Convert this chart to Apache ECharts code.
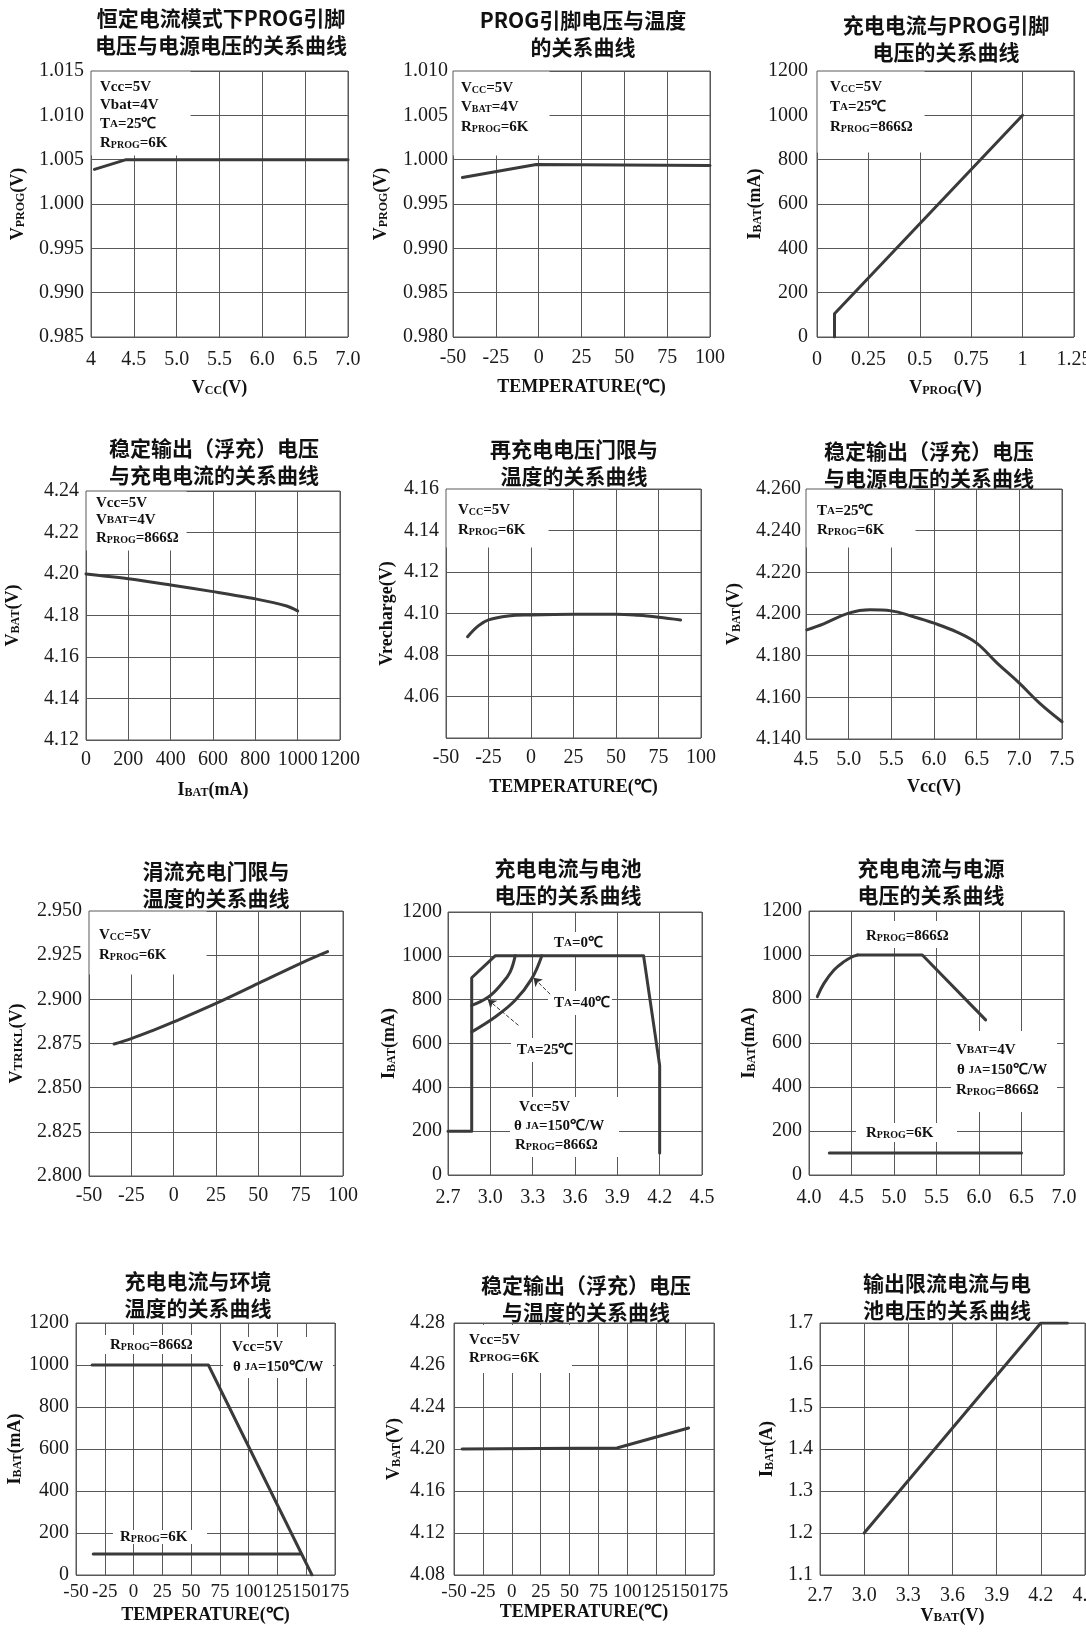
<!DOCTYPE html>
<html>
<head>
<meta charset="utf-8">
<script src="https://cdn.jsdelivr.net/npm/echarts@6/dist/echarts.min.js"></script>
<style>
  html, body { margin: 0; padding: 0; background: #fff; }
  #main { width: 1086px; height: 1632px; }
</style>
</head>
<body>
<div id="main"></div>
<script>
  const SERIF = '"Liberation Serif", "Times New Roman", serif'
  const CJK = '"Noto Sans CJK SC", sans-serif'
  const INK = '#3a3a3a'
  const GRIDC = '#585858'

  // ---- 1 恒定电流模式下PROG引脚电压与电源电压 ----
  const vccX = [4.04, 4.41, 7.0]
  const vprogY = [1.0039, 1.005, 1.005]
  const vccTicks = ['4', '4.5', '5.0', '5.5', '6.0', '6.5', '7.0']
  const vprog1Ticks = ['0.985', '0.990', '0.995', '1.000', '1.005', '1.010', '1.015']

  // ---- 2 PROG引脚电压与温度 ----
  const tempProgX = [-44.5, -1.4, 100]
  const tempProgY = [0.998, 0.99945, 0.99935]
  const temp100Ticks = ['-50', '-25', '0', '25', '50', '75', '100']
  const vprog2Ticks = ['0.980', '0.985', '0.990', '0.995', '1.000', '1.005', '1.010']

  // ---- 3 充电电流与PROG引脚电压 ----
  const progVX = [0.085, 0.085, 1.0]
  const progIY = [0, 105, 1000]
  const progVTicks = ['0', '0.25', '0.5', '0.75', '1', '1.25']
  const ma1200Ticks = ['0', '200', '400', '600', '800', '1000', '1200']

  // ---- 4 稳定输出电压与充电电流 ----
  const ibatX = [0, 200, 400, 600, 800, 948, 1000]
  const vfloatIY = [4.2, 4.1977, 4.1947, 4.1915, 4.188, 4.1846, 4.1822]
  const v424Ticks = ['4.12', '4.14', '4.16', '4.18', '4.20', '4.22', '4.24']

  // ---- 5 再充电电压门限与温度 ----
  const rechTX = [-37.3, -31, -25, -13.5, 0, 25, 50, 63, 75, 88]
  const rechVY = [4.0888, 4.094, 4.0969, 4.0988, 4.0993, 4.0996, 4.0996, 4.0991, 4.0982, 4.0969]
  const rechTicks = ['', '4.06', '4.08', '4.10', '4.12', '4.14', '4.16']

  // ---- 6 稳定输出电压与电源电压 ----
  const vcc6X = [4.51, 4.707, 5.0, 5.25, 5.5, 5.75, 6.0, 6.27, 6.5, 6.74, 7.0, 7.24, 7.5]
  const vbat6Y = [4.1924, 4.1953, 4.2004, 4.202, 4.2015, 4.1988, 4.1956, 4.1913, 4.186, 4.1764, 4.1668, 4.1571, 4.1483]
  const vcc6Ticks = ['4.5', '5.0', '5.5', '6.0', '6.5', '7.0', '7.5']
  const vbat6Ticks = ['4.140', '4.160', '4.180', '4.200', '4.220', '4.240', '4.260']

  // ---- 7 涓流充电门限与温度 ----
  const trkTX = [-35.2, -25, -12.5, 0, 25, 50, 75, 90.9]
  const trkVY = [2.8747, 2.8778, 2.8823, 2.8872, 2.8977, 2.909, 2.9204, 2.927]
  const trkTicks = ['2.800', '2.825', '2.850', '2.875', '2.900', '2.925', '2.950']

  // ---- 8 充电电流与电池电压 ----
  const envVX = [2.7, 2.868, 2.868, 3.034, 4.086, 4.2, 4.2]
  const envIY = [200, 200, 900, 1000, 1000, 500, 100]
  const arcAX = [2.868, 2.986, 3.081, 3.14, 3.176]
  const arcAY = [774, 812, 873, 926, 1000]
  const arcBX = [2.868, 3.034, 3.176, 3.294, 3.365]
  const arcBY = [653, 721, 797, 896, 1000]
  const arrowFrom = [[3.199, 683], [3.424, 825]]
  const arrowTo = [[2.982, 800], [3.306, 900]]
  const vbatTicks = ['2.7', '3.0', '3.3', '3.6', '3.9', '4.2', '4.5']

  // ---- 9 充电电流与电源电压 ----
  const riseVX = [4.098, 4.176, 4.294, 4.412, 4.51, 4.57]
  const riseIY = [811, 871, 932, 970, 992, 1000]
  const flatVX = [4.57, 5.333, 6.078]
  const flatIY = [1000, 1000, 705]
  const k6VX = [4.239, 6.5]
  const k6IY = [100, 100]
  const vcc9Ticks = ['4.0', '4.5', '5.0', '5.5', '6.0', '6.5', '7.0']

  // ---- 10 充电电流与环境温度 ----
  const amb866X = [-36, 65, 155]
  const amb866Y = [1000, 1000, 0]
  const amb6kX = [-35, 145]
  const amb6kY = [100, 100]
  const temp175Ticks = ['-50', '-25', '0', '25', '50', '75', '100', '125', '150', '175']

  // ---- 11 稳定输出电压与温度 ----
  const flTX = [-43, 91, 153]
  const flVY = [4.2, 4.201, 4.22]
  const flTickVals = [4.08, 4.12, 4.16, 4.20, 4.24, 4.26, 4.28]

  // ---- 12 输出限流电流与电池电压 ----
  const limVX = [3.0, 4.2, 4.38]
  const limIY = [1.2, 1.7, 1.7]
  const limTicks = ['1.1', '1.2', '1.3', '1.4', '1.5', '1.6', '1.7']

  const zip = (xs, ys) => xs.map((x, i) => [x, ys[i]])
  // position on an axis whose equally spaced grid lines carry uneven labels
  const tickPos = (v, vals) => {
    for (let i = 0; i < vals.length - 1; i++) {
      if (v <= vals[i + 1]) return i + (v - vals[i]) / (vals[i + 1] - vals[i])
    }
    return vals.length - 1
  }

  const NAME_RICH = {
    b: { fontFamily: SERIF, fontWeight: 'bold', fontSize: 18, color: '#111' },
    s: { fontFamily: SERIF, fontWeight: 'bold', fontSize: 12, color: '#111', verticalAlign: 'bottom' },
    c: { fontFamily: SERIF, fontWeight: 'bold', fontSize: 13, color: '#111', verticalAlign: 'bottom', padding: [0, 0, 1, 0] },
  }
  const ANN_RICH = {
    n: { fontFamily: SERIF, fontWeight: 'bold', fontSize: 15, fill: '#111' },
    s: { fontFamily: SERIF, fontWeight: 'bold', fontSize: 10, fill: '#111', verticalAlign: 'bottom' },
    c: { fontFamily: SERIF, fontWeight: 'bold', fontSize: 11, fill: '#111', verticalAlign: 'bottom', padding: [0, 0, 2, 0] },
  }
  const TEMP_NAME = '{b|TEMPERATURE(℃)}'

  const panels = [
    {
      title: '恒定电流模式下PROG引脚\n电压与电源电压的关系曲线', tx: 221, ty: 5, rect: [91, 71, 257, 266],
      x: { min: 4, max: 7, step: 0.5, ticks: vccTicks, name: '{b|V}{s|CC}{b|(V)}', gap: 42, margin: 13 },
      y: { min: 0.985, max: 1.015, step: 0.005, ticks: vprog1Ticks, name: '{b|V}{s|PROG}{b|(V)}', gap: 64 },
      lines: [{ data: zip(vccX, vprogY) }],
    },
    {
      title: 'PROG引脚电压与温度\n的关系曲线', tx: 583, ty: 7, rect: [453, 71, 257, 266],
      x: { min: -50, max: 100, step: 25, ticks: temp100Ticks, name: TEMP_NAME, gap: 41, margin: 11 },
      y: { min: 0.98, max: 1.01, step: 0.005, ticks: vprog2Ticks, name: '{b|V}{s|PROG}{b|(V)}', gap: 63, margin: 5 },
      lines: [{ data: zip(tempProgX, tempProgY) }],
    },
    {
      title: '充电电流与PROG引脚\n电压的关系曲线', tx: 946, ty: 11.5, rect: [817, 71, 257, 266],
      x: { min: 0, max: 1.25, step: 0.25, ticks: progVTicks, name: '{b|V}{s|PROG}{b|(V)}', gap: 42, margin: 13 },
      y: { min: 0, max: 1200, step: 200, ticks: ma1200Ticks, name: '{b|I}{s|BAT}{b|(mA)}', gap: 52, margin: 9 },
      lines: [{ data: zip(progVX, progIY) }],
    },
    {
      title: '稳定输出（浮充）电压\n与充电电流的关系曲线', tx: 214, ty: 435, rect: [86, 491, 254, 249],
      x: { min: 0, max: 1200, step: 200, ticks: ma1200Ticks, name: '{b|I}{s|BAT}{b|(mA)}', gap: 41, margin: 10 },
      y: { min: 4.12, max: 4.24, step: 0.02, ticks: v424Ticks, name: '{b|V}{s|BAT}{b|(V)}', gap: 64 },
      lines: [{ data: zip(ibatX, vfloatIY), smooth: 0.3 }],
    },
    {
      title: '再充电电压门限与\n温度的关系曲线', tx: 574, ty: 436, rect: [446, 489, 255, 249],
      x: { min: -50, max: 100, step: 25, ticks: temp100Ticks, name: TEMP_NAME, gap: 40, margin: 10 },
      y: { min: 4.04, max: 4.16, step: 0.02, ticks: rechTicks, name: '{b|Vrecharge(V)}', gap: 50 },
      lines: [{ data: zip(rechTX, rechVY), smooth: 0.4 }],
    },
    {
      title: '稳定输出（浮充）电压\n与电源电压的关系曲线', tx: 929, ty: 438, rect: [806, 489, 256, 250],
      x: { min: 4.5, max: 7.5, step: 0.5, ticks: vcc6Ticks, name: '{b|Vcc(V)}', gap: 39, margin: 11 },
      y: { min: 4.14, max: 4.26, step: 0.02, ticks: vbat6Ticks, name: '{b|V}{s|BAT}{b|(V)}', gap: 63, margin: 5 },
      lines: [{ data: zip(vcc6X, vbat6Y), smooth: 0.4 }],
    },
    {
      title: '涓流充电门限与\n温度的关系曲线', tx: 216, ty: 858, rect: [89, 911, 254, 265],
      x: { min: -50, max: 100, step: 25, ticks: temp100Ticks, margin: 10 },
      y: { min: 2.8, max: 2.95, step: 0.025, ticks: trkTicks, name: '{b|V}{c|TRIKL}{b|(V)}', gap: 63 },
      lines: [{ data: zip(trkTX, trkVY), smooth: 0.4 }],
    },
    {
      title: '充电电流与电池\n电压的关系曲线', tx: 568, ty: 855, rect: [448, 912, 254, 263],
      x: { min: 2.7, max: 4.5, step: 0.3, ticks: vbatTicks, margin: 13 },
      y: { min: 0, max: 1200, step: 200, ticks: ma1200Ticks, name: '{b|I}{s|BAT}{b|(mA)}', gap: 50, margin: 6 },
      lines: [
        { data: zip(envVX, envIY), arrows: arrowFrom.map((f, k) => [{ coord: f }, { coord: arrowTo[k] }]) },
        { data: zip(arcAX, arcAY), smooth: 0.4 },
        { data: zip(arcBX, arcBY), smooth: 0.4 },
      ],
    },
    {
      title: '充电电流与电源\n电压的关系曲线', tx: 931, ty: 854.5, rect: [809, 911, 255, 264],
      x: { min: 4, max: 7, step: 0.5, ticks: vcc9Ticks, margin: 13 },
      y: { min: 0, max: 1200, step: 200, ticks: ma1200Ticks, name: '{b|I}{s|BAT}{b|(mA)}', gap: 46 },
      lines: [
        { data: zip(riseVX, riseIY), smooth: 0.4 },
        { data: zip(flatVX, flatIY) },
        { data: zip(k6VX, k6IY) },
      ],
    },
    {
      title: '充电电流与环境\n温度的关系曲线', tx: 198, ty: 1268, rect: [76, 1323, 259, 252],
      x: { min: -50, max: 175, step: 25, ticks: temp175Ticks, name: TEMP_NAME, gap: 31, margin: 8, size: 19 },
      y: { min: 0, max: 1200, step: 200, ticks: ma1200Ticks, name: '{b|I}{s|BAT}{b|(mA)}', gap: 52 },
      lines: [{ data: zip(amb866X, amb866Y) }, { data: zip(amb6kX, amb6kY) }],
    },
    {
      title: '稳定输出（浮充）电压\n与温度的关系曲线', tx: 586, ty: 1271.5, rect: [454, 1323, 260, 252],
      x: { min: -50, max: 175, step: 25, ticks: temp175Ticks, name: TEMP_NAME, gap: 28, margin: 8, size: 19 },
      y: { min: 0, max: 6, step: 1, ticks: flTickVals.map(v => v.toFixed(2)), name: '{b|V}{s|BAT}{b|(V)}', gap: 51, margin: 9 },
      lines: [{ data: flTX.map((x, i) => [x, tickPos(flVY[i], flTickVals)]) }],
    },
    {
      title: '输出限流电流与电\n池电压的关系曲线', tx: 947, ty: 1270, rect: [820, 1323, 265, 252],
      x: { min: 2.7, max: 4.5, step: 0.3, ticks: vbatTicks, name: '{b|V}{c|BAT}{b|(V)}', gap: 26, margin: 11 },
      y: { min: 1.1, max: 1.7, step: 0.1, ticks: limTicks, name: '{b|I}{s|BAT}{b|(A)}', gap: 44 },
      lines: [{ data: zip(limVX, limIY) }],
    },
  ]

  // annotation boxes [x, y, w, h] and text lines [x, y, rich text]
  const boxes = [
    [91.5, 71.5, 99, 84], [453.5, 71.5, 96, 84], [817.5, 71.5, 107, 81],
    [86.5, 491.5, 100, 59], [446.5, 489.5, 102, 58], [806.5, 489.5, 109, 58],
    [89.5, 911.5, 117, 63],
    [549, 932, 52, 23], [548, 991, 64, 24], [511, 1038, 64, 24], [510, 1097, 109, 60],
    [857, 921, 97, 27], [951, 1031, 106, 81], [856, 1123, 101, 19],
    [100, 1335, 103, 19], [223, 1337, 110, 41], [113, 1530, 94, 14],
    [455, 1325, 117, 48],
  ]
  const RP866 = '{n|R}{s|PROG}{n|=866Ω}'
  const RP6K = '{n|R}{s|PROG}{n|=6K}'
  const THETA = '{n|θ }{c|JA}{n|=150℃/W}'
  const notes = [
    [100, 87, '{n|Vcc=5V}'], [100, 105, '{n|Vbat=4V}'], [100, 124, '{n|T}{c|A}{n|=25℃}'], [100, 143, RP6K],
    [461, 88, '{n|V}{s|CC}{n|=5V}'], [461, 107, '{n|V}{s|BAT}{n|=4V}'], [461, 127, RP6K],
    [830, 87, '{n|V}{s|CC}{n|=5V}'], [830, 107, '{n|T}{c|A}{n|=25℃}'], [830, 127, RP866],
    [96, 503, '{n|Vcc=5V}'], [96, 520, '{n|V}{c|BAT}{n|=4V}'], [96, 538, RP866],
    [458, 510, '{n|V}{s|CC}{n|=5V}'], [458, 530, RP6K],
    [817, 511, '{n|T}{c|A}{n|=25℃}'], [817, 530, RP6K],
    [99, 935, '{n|V}{s|CC}{n|=5V}'], [99, 955, RP6K],
    [554, 943, '{n|T}{c|A}{n|=0℃}'], [554, 1003, '{n|T}{c|A}{n|=40℃}'], [517, 1050, '{n|T}{c|A}{n|=25℃}'],
    [519, 1107, '{n|Vcc=5V}'], [514, 1126, THETA], [515, 1145, RP866],
    [866, 936, RP866], [956, 1050, '{n|V}{c|BAT}{n|=4V}'], [957, 1070, THETA], [956, 1090, RP866], [866, 1133, RP6K],
    [110, 1345, RP866], [232, 1347, '{n|Vcc=5V}'], [233, 1367, THETA], [120, 1537, RP6K],
    [469, 1340, '{n|Vcc=5V}'], [469, 1358, '{n|R}{c|PROG}{n|=6K}'],
  ]

  const makeAxis = (i, a, dim) => ({
    gridIndex: i,
    type: 'value',
    min: a.min,
    max: a.max,
    interval: a.step,
    axisLine: { show: false },
    axisTick: { show: false },
    splitLine: { show: true, lineStyle: { color: GRIDC, width: 1 } },
    axisLabel: {
      color: '#1a1a1a',
      fontFamily: SERIF,
      fontSize: a.size || 20,
      showMinLabel: true,
      showMaxLabel: true,
      hideOverlap: false,
      margin: a.margin != null ? a.margin : 7,
      formatter: v => a.ticks[Math.round((v - a.min) / a.step)] || '',
    },
    name: a.name || '',
    nameLocation: 'middle',
    nameGap: a.gap || 0,
    nameRotate: dim === 'y' ? 90 : 0,
    nameTextStyle: { rich: NAME_RICH },
  })

  const option = {
    animation: false,
    backgroundColor: '#fff',
    title: [],
    grid: [],
    xAxis: [],
    yAxis: [],
    series: [],
    graphic: [],
  }

  panels.forEach((p, i) => {
    option.title.push({
      text: p.title,
      left: p.tx,
      top: p.ty,
      textAlign: 'center',
      padding: 0,
      textStyle: { fontFamily: CJK, fontWeight: 'bold', fontSize: 21, lineHeight: 27, color: '#111' },
    })
    option.grid.push({
      left: p.rect[0], top: p.rect[1], width: p.rect[2], height: p.rect[3],
      show: true, borderColor: GRIDC, borderWidth: 1,
      containLabel: false,
      outerBoundsMode: 'none',
    })
    option.xAxis.push(makeAxis(i, p.x, 'x'))
    option.yAxis.push(makeAxis(i, p.y, 'y'))
    p.lines.forEach(l => {
      const s = {
        type: 'line',
        xAxisIndex: i,
        yAxisIndex: i,
        data: l.data,
        smooth: l.smooth || false,
        symbol: 'none',
        z: 5,
        lineStyle: { color: INK, width: 3, cap: 'round', join: 'round' },
      }
      if (l.arrows) {
        s.markLine = {
          silent: true,
          symbol: ['none', 'arrow'],
          symbolSize: 8,
          label: { show: false },
          lineStyle: { type: 'dashed', color: '#333', width: 1 },
          data: l.arrows,
        }
      }
      option.series.push(s)
    })
  })

  boxes.forEach(b => {
    option.graphic.push({
      type: 'rect', z: 1,
      shape: { x: b[0], y: b[1], width: b[2], height: b[3] },
      style: { fill: '#fff' },
    })
  })
  notes.forEach(n => {
    option.graphic.push({
      type: 'text', z: 6, x: n[0], y: n[1],
      style: { text: n[2], rich: ANN_RICH, fill: '#111', fontFamily: SERIF, fontWeight: 'bold', fontSize: 15, align: 'left', verticalAlign: 'middle' },
    })
  })

  const chart = echarts.init(document.getElementById('main'))
  chart.setOption(option)
  window.addEventListener('resize', function () {
    chart && chart.resize()
  })
</script>
</body>
</html>
